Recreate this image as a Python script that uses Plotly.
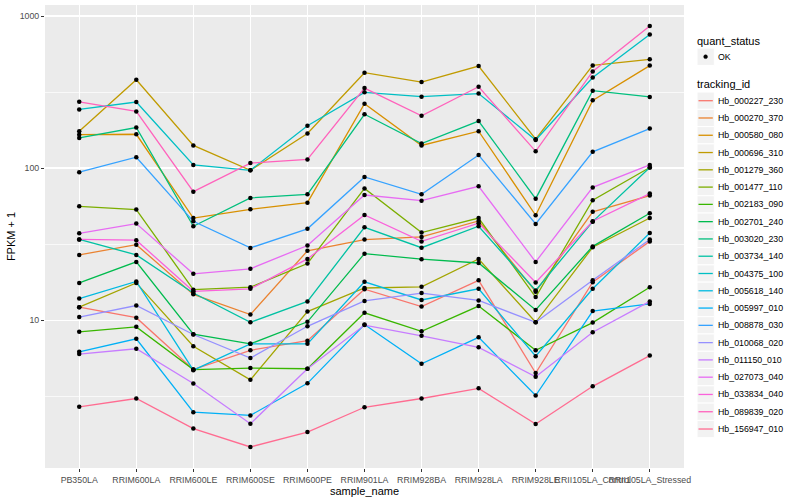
import numpy as np
import plotly.graph_objects as go

samples = ["PB350LA", "RRIM600LA", "RRIM600LE", "RRIM600SE", "RRIM600PE", "RRIM901LA",
           "RRIM928BA", "RRIM928LA", "RRIM928LE", "RRII105LA_Control", "RRII105LA_Stressed"]

tracking_ids = ["Hb_000227_230", "Hb_000270_370", "Hb_000580_080", "Hb_000696_310",
                "Hb_001279_360", "Hb_001477_110", "Hb_002183_090", "Hb_002701_240",
                "Hb_003020_230", "Hb_003734_140", "Hb_004375_100", "Hb_005618_140",
                "Hb_005997_010", "Hb_008878_030", "Hb_010068_020", "Hb_011150_010",
                "Hb_027073_040", "Hb_033834_040", "Hb_089839_020", "Hb_156947_010"]

colors = ["#F8766D", "#EA8331", "#D89000", "#C09B00", "#A3A500", "#7CAE00", "#39B600",
          "#00BB4E", "#00BF7D", "#00C1A3", "#00BFC4", "#00BAE0", "#00B0F6", "#35A2FF",
          "#9590FF", "#C77CFF", "#E76BF3", "#FA62DB", "#FF62BC", "#FF6C91"]

# FPKM + 1 per sample (order of `samples`)
hb_000227_230 = [12.2, 10.4, 4.74, 6.35, 7.34, 16.0, 12.3, 18.3, 4.5, 17.8, 33.0]
hb_000270_370 = [26.9, 31.4, 14.8, 10.9, 28.6, 33.9, 35.3, 45.0, 15.4, 51.6, 66.0]
hb_000580_080 = [166, 167, 47.0, 53.6, 59.3, 265, 141, 175, 49.0, 279, 472]
hb_000696_310 = [175, 381, 141, 96.8, 169, 424, 368, 469, 155, 473, 519]
hb_001279_360 = [12.2, 17.6, 6.75, 4.06, 11.4, 16.3, 16.6, 25.3, 9.7, 30.2, 47.0]
hb_001477_110 = [56.1, 53.4, 15.9, 16.5, 23.6, 73.5, 37.7, 47.0, 14.2, 61.6, 101]
hb_002183_090 = [8.4, 9.05, 4.74, 4.85, 4.8, 11.2, 8.47, 12.4, 6.35, 9.66, 16.5]
hb_002701_240 = [17.6, 24.2, 8.1, 7.0, 9.77, 27.4, 25.2, 23.8, 11.7, 30.6, 50.5]
hb_003020_230 = [158, 185, 41.5, 63.7, 67.3, 226, 145, 204, 63.0, 323, 294]
hb_003734_140 = [34.0, 26.9, 15.1, 9.7, 13.3, 40.8, 30.0, 41.5, 15.7, 44.5, 101]
hb_004375_100 = [243, 272, 105, 96.8, 190, 315, 295, 309, 153, 394, 757]
hb_005618_140 = [13.9, 18.0, 4.7, 7.0, 7.0, 17.9, 13.6, 16.1, 5.8, 16.1, 37.5]
hb_005997_010 = [6.2, 7.55, 2.49, 2.37, 3.85, 9.37, 5.17, 7.73, 3.2, 11.5, 12.8]
hb_008878_030 = [94.0, 118, 44.7, 29.9, 39.9, 87.5, 67.3, 122, 43.0, 128, 182]
hb_010068_020 = [10.5, 12.5, 8.06, 5.65, 9.13, 13.4, 15.1, 13.5, 9.7, 18.3, 34.0]
hb_011150_010 = [6.0, 6.5, 3.84, 2.09, 4.8, 9.3, 7.9, 6.64, 4.25, 8.34, 13.3]
hb_027073_040 = [37.3, 43.2, 20.2, 21.8, 31.0, 66.6, 61.1, 75.9, 24.2, 74.7, 105]
hb_033834_040 = [34.0, 33.6, 15.5, 16.1, 25.3, 49.2, 33.0, 43.5, 17.7, 44.8, 68.0]
hb_089839_020 = [273, 236, 70.0, 108, 114, 336, 221, 343, 129, 432, 859]
hb_156947_010 = [2.7, 3.06, 1.94, 1.47, 1.84, 2.68, 3.06, 3.57, 2.08, 3.68, 5.86]

series = [hb_000227_230, hb_000270_370, hb_000580_080, hb_000696_310, hb_001279_360,
          hb_001477_110, hb_002183_090, hb_002701_240, hb_003020_230, hb_003734_140,
          hb_004375_100, hb_005618_140, hb_005997_010, hb_008878_030, hb_010068_020,
          hb_011150_010, hb_027073_040, hb_033834_040, hb_089839_020, hb_156947_010]

quant_status = ["OK"]
y_ticks = [10, 100, 1000]

FONT = "Liberation Sans"

fig = go.Figure()
for name, col, vals in zip(tracking_ids, colors, series):
    fig.add_trace(go.Scatter(x=samples, y=vals, mode="lines", name=name,
                             line=dict(color=col, width=1.3), showlegend=False))

all_x = [s for _ in series for s in samples]
all_y = [v for vals in series for v in vals]
fig.add_trace(go.Scatter(x=all_x, y=all_y, mode="markers", name=quant_status[0],
                         marker=dict(color="black", size=4.5), showlegend=False))

lo, hi = np.log10(min(all_y)), np.log10(max(all_y))
pad = 0.05 * (hi - lo)

# layout geometry (pixels)
W, H = 800, 500
L, R, T, B = 45, 116, 5, 32
PW, PH = W - L - R, H - T - B


def px(x):
    return (x - L) / PW


def py(y):
    return (H - B - y) / PH


shapes = []
annotations = []

# legend: quant_status
annotations.append(dict(x=px(695), y=py(40.7), xref="paper", yref="paper", text="quant_status",
                        showarrow=False, xanchor="left", yanchor="middle",
                        font=dict(family=FONT, size=11, color="black")))
key_top = 48.1
shapes.append(dict(type="rect", xref="paper", yref="paper", x0=px(697), x1=px(714.3),
                   y0=py(key_top), y1=py(key_top + 17.28), fillcolor="#F2F2F2",
                   line=dict(color="white", width=1), layer="above"))
shapes.append(dict(type="circle", xref="paper", yref="paper", x0=px(703.7), x1=px(707.5),
                   y0=py(58.6), y1=py(54.8), fillcolor="black", line=dict(color="black", width=0.5),
                   layer="above"))
annotations.append(dict(x=px(715.5), y=py(56.7), xref="paper", yref="paper", text=quant_status[0],
                        showarrow=False, xanchor="left", yanchor="middle",
                        font=dict(family=FONT, size=8.8, color="black")))

# legend: tracking_id
annotations.append(dict(x=px(695), y=py(84.3), xref="paper", yref="paper", text="tracking_id",
                        showarrow=False, xanchor="left", yanchor="middle",
                        font=dict(family=FONT, size=11, color="black")))
step = 17.28
first = 100.7
for i, (name, col) in enumerate(zip(tracking_ids, colors)):
    cy = first + step * i
    shapes.append(dict(type="rect", xref="paper", yref="paper", x0=px(697), x1=px(714.3),
                       y0=py(cy - step / 2), y1=py(cy + step / 2), fillcolor="#F2F2F2",
                       line=dict(color="white", width=1), layer="above"))
    shapes.append(dict(type="line", xref="paper", yref="paper", x0=px(698.5), x1=px(712.8),
                       y0=py(cy), y1=py(cy), line=dict(color=col, width=1.3), layer="above"))
    annotations.append(dict(x=px(715.5), y=py(cy), xref="paper", yref="paper", text=name,
                            showarrow=False, xanchor="left", yanchor="middle",
                            font=dict(family=FONT, size=8.8, color="black")))

fig.update_layout(
    width=W, height=H, autosize=False,
    margin=dict(l=L, r=R, t=T, b=B, pad=0),
    paper_bgcolor="white", plot_bgcolor="#EBEBEB",
    font=dict(family=FONT, color="black"),
    showlegend=False,
    shapes=shapes, annotations=annotations,
    xaxis=dict(type="category", categoryorder="array", categoryarray=samples,
               range=[-0.6, len(samples) - 0.4], showgrid=True, gridcolor="white", gridwidth=1.4,
               zeroline=False, showline=False, ticks="outside", ticklen=3, tickwidth=1,
               tickcolor="#333333", tickangle=0,
               tickfont=dict(family=FONT, size=8.8, color="#4D4D4D"),
               title=dict(text="sample_name", font=dict(family=FONT, size=11, color="black"),
                          standoff=3)),
    yaxis=dict(type="log", range=[lo - pad, hi + pad], tickvals=y_ticks,
               ticktext=[str(t) for t in y_ticks], showgrid=True, gridcolor="white", gridwidth=1.4,
               zeroline=False, showline=False, ticks="outside", ticklen=3, tickwidth=1,
               tickcolor="#333333",
               tickfont=dict(family=FONT, size=8.8, color="#4D4D4D"),
               minor=dict(tickvals=[10 ** 0.5, 10 ** 1.5, 10 ** 2.5], showgrid=True,
                          gridcolor="white", gridwidth=0.7, ticks=""),
               title=dict(text="FPKM + 1", font=dict(family=FONT, size=11, color="black"),
                          standoff=1)),
)

fig.write_html("out.html", config={"displayModeBar": False, "staticPlot": True},
               post_script="document.body.style.margin='0px';document.body.style.overflow='hidden';")
